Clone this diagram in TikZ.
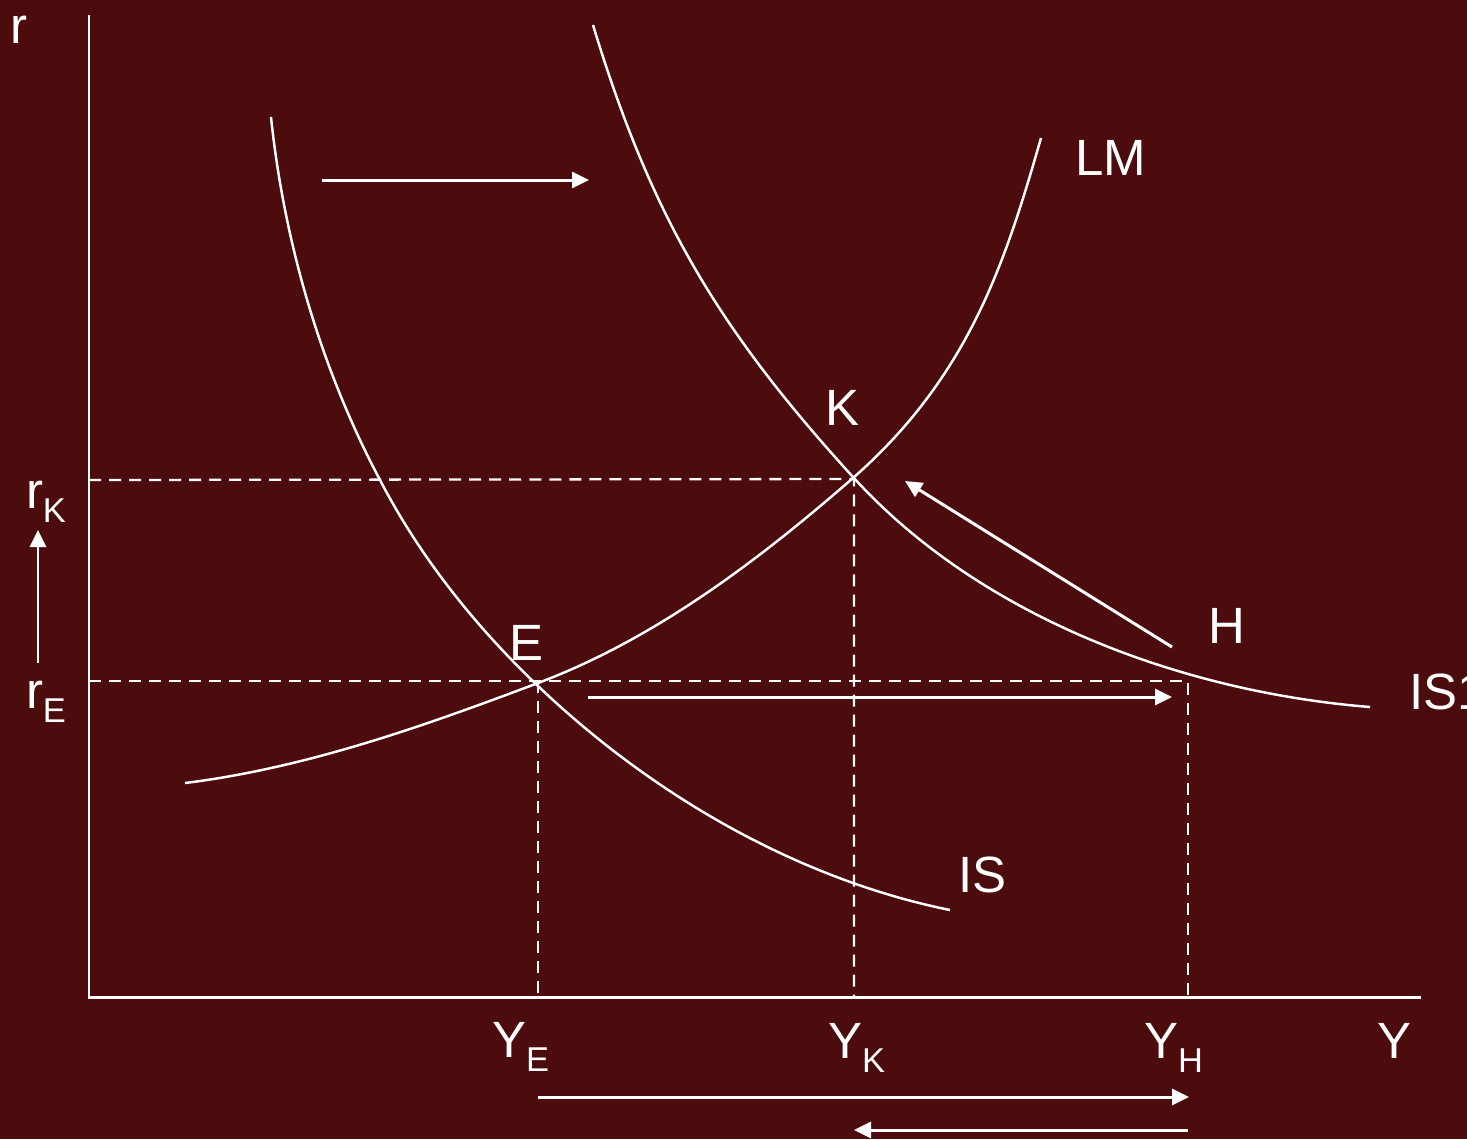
\documentclass[tikz,border=0pt]{standalone}
\usepackage{fontspec}
\setmainfont{Liberation Sans}
\usetikzlibrary{arrows.meta}
\definecolor{bgc}{RGB}{76,12,14}
\newcommand\lblsub[1]{\raisebox{-0.14cm}{\fontsize{9.8pt}{10pt}\selectfont #1}}
\begin{document}
\begin{tikzpicture}[x={(0.01cm,0)},y={(0,-0.01cm)},
  lbl/.style={text=white,anchor=base west,inner sep=0pt,outer sep=0pt,font=\fontsize{14.5pt}{17pt}\selectfont},
  axisline/.style={draw=white,line width=0.85pt},
  curveline/.style={draw=white,line width=0.7pt},
  dashline/.style={draw=white,line width=0.65pt,dash pattern=on 0.12cm off 0.08cm},
  arrline/.style={draw=white,line width=0.85pt,-{Triangle[length=0.17cm,width=0.16cm]}}]
\useasboundingbox (0,0) rectangle (1467,1139);
\fill[bgc] (0,0) rectangle (1467,1139);
\clip (0,0) rectangle (1467,1139);
% key points
\coordinate (O) at (89,997);
\coordinate (ytop) at (89,15);
\coordinate (xend) at (1421,997);
\coordinate (E) at (538,681);
\coordinate (K) at (854,479);
\coordinate (H) at (1188,681);
\coordinate (rKax) at (89,480);
\coordinate (rEax) at (89,681);
\coordinate (YEax) at (538,997);
\coordinate (YKax) at (854,997);
\coordinate (YHax) at (1188,997);
% axes
\draw[axisline] (ytop) -- (O) -- (xend);
% dashed guides
\draw[dashline] (rKax) -- (K) -- (YKax);
\draw[dashline] (rEax) -- (H) -- (YHax);
\draw[dashline] (E) -- (YEax);
% curves
\coordinate (lm0) at (185,783); \coordinate (lm1) at (538,683);
\coordinate (lm2) at (853,478); \coordinate (lm3) at (1041,138);
\draw[curveline] (lm0) .. controls (306,768) and (424,726) .. (lm1)
  .. controls (655,639) and (759,560) .. (lm2)
  .. controls (969,376) and (1005,263) .. (lm3);
\coordinate (is0) at (271,117); \coordinate (is1) at (380,480);
\coordinate (is2) at (538,686); \coordinate (is3) at (950,910);
\draw[curveline] (is0) .. controls (284,242) and (321,369) .. (is1)
  .. controls (420,557) and (475,626) .. (is2)
  .. controls (651,794) and (797,879) .. (is3);
\coordinate (isb0) at (593,25); \coordinate (isb1) at (853,477);
\coordinate (isb2) at (1370,707);
\draw[curveline] (isb0) .. controls (651,216) and (718,329) .. (isb1)
  .. controls (980,617) and (1182,692) .. (isb2);
% arrows
\coordinate (a1s) at (322,180); \coordinate (a1e) at (589,180);
\coordinate (a2s) at (588,697); \coordinate (a2e) at (1172,697);
\coordinate (a3s) at (1172,647); \coordinate (a3e) at (905,481);
\coordinate (a4s) at (538,1097); \coordinate (a4e) at (1189,1097);
\coordinate (a5s) at (1188,1130); \coordinate (a5e) at (854,1130);
\coordinate (a6s) at (38,663); \coordinate (a6e) at (38,530);
\draw[arrline] (a1s) -- (a1e);
\draw[arrline] (a2s) -- (a2e);
\draw[arrline] (a3s) -- (a3e);
\draw[arrline] (a4s) -- (a4e);
\draw[arrline] (a5s) -- (a5e);
\draw[arrline] (a6s) -- (a6e);
% labels
\node[lbl] (lr) at (10,43) {r};
\node[lbl] (lrK) at (26,508) {r\lblsub{K}};
\node[lbl] (lrE) at (26,708) {r\lblsub{E}};
\node[lbl] (lK) at (825,425) {K};
\node[lbl] (lE) at (509,660) {E};
\node[lbl] (lH) at (1208,643) {H};
\node[lbl] (lLM) at (1075,175) {LM};
\node[lbl] (lIS) at (958,892) {IS};
\node[lbl] (lIS1) at (1409,709) {IS1};
\node[lbl] (lYE) at (492,1057) {Y\lblsub{E}};
\node[lbl] (lYK) at (828,1058) {Y\lblsub{K}};
\node[lbl] (lYH) at (1144,1058) {Y\lblsub{H}};
\node[lbl] (lY) at (1377,1058) {Y};
\end{tikzpicture}
\end{document}
